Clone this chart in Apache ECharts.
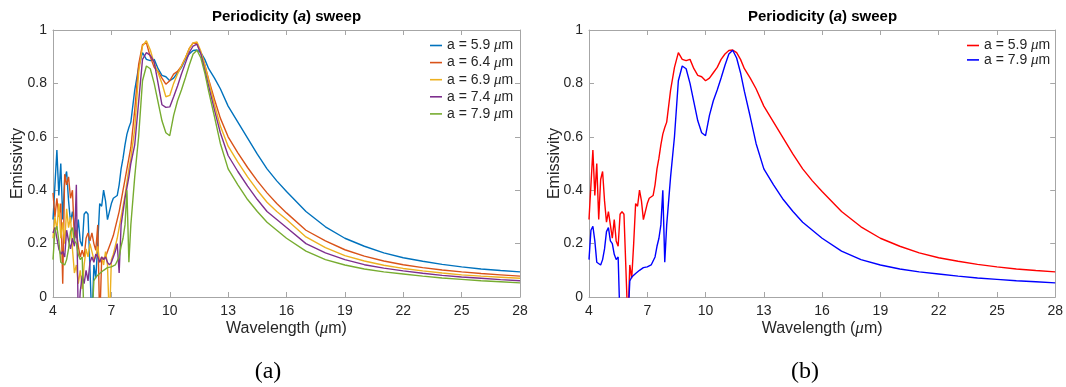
<!DOCTYPE html>
<html><head><meta charset="utf-8">
<script src="https://cdn.jsdelivr.net/npm/echarts@6/dist/echarts.min.js"></script>
<style>html,body{margin:0;padding:0;background:#fff}#c{width:1066px;height:387px}</style>
</head><body><div id="c"></div>
<script>
// ---- data ----
const wavelength = [
  4.0,4.1,4.2,4.3,4.4,4.5,4.6,4.7,4.8,4.9,
  5.0,5.1,5.2,5.3,5.4,5.5,5.6,5.7,5.8,5.9,
  6.0,6.1,6.2,6.3,6.4,6.5,6.6,6.7,6.8,6.9,
  7.0,7.1,7.2,7.3,7.4,7.5,7.6,7.7,7.8,7.9,
  8.0,
  8.2,8.4,8.6,8.8,9.0,9.2,9.4,9.6,9.8,10.0,
  10.2,10.4,10.6,10.8,11.0,11.2,11.4,11.6,11.8,12.0,
  12.3,12.6,
  13.0,13.5,14.0,14.5,15.0,15.5,16.0,
  17,18,19,20,21,22,23,24,25,26,27,28
];
const periods = ['5.9','6.4','6.9','7.4','7.9'];
const emis59 = [
  0.29,0.42,0.55,0.38,0.50,0.29,0.44,0.47,0.36,0.28,
  0.32,0.27,0.22,0.29,0.21,0.19,0.31,0.32,0.31,0.31,
  -0.1,0.12,0.07,0.20,0.35,0.34,0.40,0.36,0.29,0.29,
  0.35,0.37,0.37,0.38,0.42,0.48,0.52,0.57,0.61,0.635,
  0.655,
  0.775,0.86,0.915,0.89,0.885,0.89,0.855,0.83,0.825,0.81,
  0.82,0.84,0.86,0.89,0.91,0.923,0.925,0.915,0.89,0.855,
  0.82,0.78,
  0.715,0.655,0.595,0.535,0.48,0.435,0.395,
  0.32,0.263,0.22,0.19,0.165,0.147,0.134,0.122,0.113,0.105,0.099,0.094
];
const emis64 = [
  0.39,0.30,0.37,0.30,0.35,0.05,0.46,0.42,0.45,0.37,
  0.40,0.22,0.25,0.19,0.15,0.175,0.15,0.22,0.24,0.21,
  0.24,0.20,0.175,0.27,-0.1,0.14,0.14,0.15,0.17,0.19,
  0.21,0.23,0.26,0.29,0.32,0.36,0.40,0.44,0.48,0.52,
  0.56,
  0.70,0.87,0.945,0.952,0.90,0.86,0.845,0.82,0.797,0.81,
  0.835,0.845,0.865,0.895,0.93,0.952,0.948,0.915,0.87,0.815,
  0.74,0.67,
  0.60,0.54,0.485,0.435,0.39,0.35,0.315,
  0.25,0.21,0.177,0.153,0.135,0.121,0.11,0.101,0.094,0.088,0.083,0.078
];
const emis69 = [
  0.22,0.30,0.25,0.35,0.22,0.28,0.20,0.33,0.26,0.30,
  0.18,0.09,0.12,0.05,0.10,0.03,0.12,0.18,0.15,0.20,
  0.17,0.14,0.15,0.19,0.13,0.15,0.12,0.17,0.12,-0.1,
  0.14,0.16,0.19,0.22,0.26,0.30,0.34,0.38,0.43,0.48,
  0.52,
  0.63,0.84,0.94,0.96,0.925,0.875,0.84,0.80,0.75,0.755,
  0.80,0.835,0.865,0.895,0.93,0.952,0.955,0.92,0.87,0.81,
  0.72,0.64,
  0.565,0.505,0.45,0.40,0.355,0.32,0.29,
  0.225,0.185,0.155,0.135,0.119,0.107,0.098,0.09,0.083,0.078,0.074,0.07
];
const emis74 = [
  0.24,0.26,0.22,0.18,0.16,0.17,0.15,0.25,0.21,0.18,
  0.22,0.19,0.42,-0.1,0.02,0.08,0.05,0.10,0.06,0.13,
  0.15,0.13,0.16,0.15,0.13,0.15,0.14,0.15,0.13,0.12,
  0.13,0.15,0.17,0.20,0.09,0.27,0.32,0.37,0.41,0.45,
  0.50,
  0.57,0.73,0.89,0.915,0.905,0.88,0.80,0.72,0.71,0.712,
  0.75,0.79,0.835,0.875,0.915,0.94,0.947,0.91,0.85,0.79,
  0.70,0.615,
  0.53,0.47,0.415,0.365,0.32,0.29,0.26,
  0.20,0.165,0.14,0.121,0.108,0.098,0.089,0.081,0.075,0.07,0.065,0.061
];
const emis79 = [
  0.14,0.25,0.265,0.21,0.13,0.135,0.12,0.14,0.18,0.245,
  0.26,0.21,0.20,0.16,0.14,0.15,-0.1,-0.1,-0.1,-0.1,
  -0.1,0.06,0.075,0.08,0.088,0.085,0.10,0.095,0.11,0.11,
  0.113,0.113,0.12,0.126,0.15,0.19,0.22,0.27,0.40,0.13,
  0.27,
  0.45,0.60,0.81,0.865,0.855,0.80,0.73,0.66,0.615,0.604,
  0.68,0.735,0.775,0.82,0.868,0.91,0.924,0.895,0.84,0.77,
  0.675,0.575,
  0.48,0.42,0.365,0.32,0.28,0.25,0.22,
  0.172,0.14,0.12,0.105,0.094,0.086,0.078,0.071,0.066,0.061,0.057,0.053
];
const xTickStep = 3;
const yTickStep = 0.2;
const captions = ['(a)', '(b)'];
const yName = 'Emissivity';

// ---- styling ----
const FONT = '"Liberation Sans", Arial, Helvetica, sans-serif';
const SERIF = '"Liberation Serif", "DejaVu Serif", serif';
const AX = '#a6a6a6', TXT = '#262626';
const leftColors = ['#0072BD','#D95319','#EDB120','#7E2F8E','#77AC30'];
const rightColors = ['#FF0000','#0000FF'];
const leftSets = [emis59, emis64, emis69, emis74, emis79];
const rightSets = [emis59, emis79];
const rightPeriods = [periods[0], periods[4]];

function pairs(vals){ return wavelength.map((w,i)=>[w, vals[i]]); }

const richAxisName = {
  n:{fontSize:16, fontFamily:FONT, color:TXT},
  i:{fontSize:17, fontFamily:SERIF, fontStyle:'italic', color:TXT}
};
function xAx(g, main){
  return {type:'value', gridIndex:g, position: main?'bottom':'top', min:4, max:28, interval:xTickStep,
    axisLine:{show:true, onZero:false, lineStyle:{color:AX, width:1}},
    axisTick:{show:true, inside:true, length:5, lineStyle:{color:AX}},
    axisLabel:{show:main, color:TXT, fontSize:14, fontFamily:FONT, margin:7},
    splitLine:{show:false},
    name: main ? '{n|Wavelength (}{i|μ}{n|m)}' : '', nameLocation:'middle', nameGap:23,
    nameMoveOverlap:false,
    nameTextStyle:{rich:richAxisName}};
}
function yAx(g, main){
  return {type:'value', gridIndex:g, position: main?'left':'right', min:0, max:1, interval:yTickStep,
    axisLine:{show:true, onZero:false, lineStyle:{color:AX, width:1}},
    axisTick:{show:true, inside:true, length:5, lineStyle:{color:AX}},
    axisLabel:{show:main, color:TXT, fontSize:14, fontFamily:FONT, margin:6},
    splitLine:{show:false}};
}

const series = [];
leftSets.forEach((s,k)=>series.push({name:'L'+k, type:'line', xAxisIndex:0, yAxisIndex:0,
  data:pairs(s), symbol:'none', showSymbol:false, clip:true, color:leftColors[k],
  lineStyle:{width:1.4, color:leftColors[k]}, itemStyle:{color:leftColors[k]}}));
rightSets.forEach((s,k)=>series.push({name:'R'+k, type:'line', xAxisIndex:2, yAxisIndex:2,
  data:pairs(s), symbol:'none', showSymbol:false, clip:true, color:rightColors[k],
  lineStyle:{width:1.4, color:rightColors[k]}, itemStyle:{color:rightColors[k]}}));

const legendText = {fontSize:14, fontFamily:FONT, color:TXT, lineHeight:14,
  rich:{n:{fontSize:14, fontFamily:FONT, color:TXT, lineHeight:14},
        i:{fontSize:15, fontFamily:SERIF, fontStyle:'italic', color:TXT, lineHeight:14}}};
function legendLabel(name){
  const side = name[0], k = +name.slice(1);
  const p = side==='L' ? periods[k] : rightPeriods[k];
  return '{n|a = '+p+' }{i|μ}{n|m}';
}

const titleRich = {
  b:{fontSize:15, fontWeight:'bold', fontFamily:FONT, fill:'#000'},
  bi:{fontSize:15, fontWeight:'bold', fontStyle:'italic', fontFamily:FONT, fill:'#000'}
};
function titleText(x){
  return {type:'text', style:{x:x, y:17, text:'{b|Periodicity (}{bi|a}{b|) sweep}', rich:titleRich,
    align:'center', verticalAlign:'middle', textAlign:'center', textVerticalAlign:'middle', fill:'#000'}};
}
function caption(x, t){
  return {type:'text', style:{x:x, y:372, text:t, font:'24px '+SERIF, fill:'#000',
    align:'center', verticalAlign:'middle', textAlign:'center', textVerticalAlign:'middle'}};
}
function yTitle(x){
  return {type:'text', x:x, y:163.5, rotation:Math.PI/2,
    style:{x:0, y:0, text:yName, font:'16px '+FONT, fill:TXT,
      align:'center', verticalAlign:'middle', textAlign:'center', textVerticalAlign:'middle'}};
}

const legendCommon = {orient:'vertical', icon:'rect', itemWidth:12, itemHeight:1.6,
  formatter:legendLabel, textStyle:legendText, selectedMode:false};
const option = {
  animation:false,
  backgroundColor:'#fff',
  grid:[{left:53, top:30, width:467, height:267},{left:589, top:30, width:467, height:267}],
  xAxis:[xAx(0,true), xAx(0,false), xAx(1,true), xAx(1,false)],
  yAxis:[yAx(0,true), yAx(0,false), yAx(1,true), yAx(1,false)],
  legend:[
    Object.assign({data:['L0','L1','L2','L3','L4'], left:425, top:33, itemGap:2.1}, legendCommon),
    Object.assign({data:['R0','R1'], left:962, top:33, itemGap:-0.6}, legendCommon)
  ],
  graphic:[titleText(286.5), titleText(822.5), caption(268,captions[0]), caption(805,captions[1]),
           yTitle(18), yTitle(555)],
  series:series
};
const chart = echarts.init(document.getElementById('c'), null, {renderer:'canvas'});
chart.setOption(option);
</script>
</body></html>
